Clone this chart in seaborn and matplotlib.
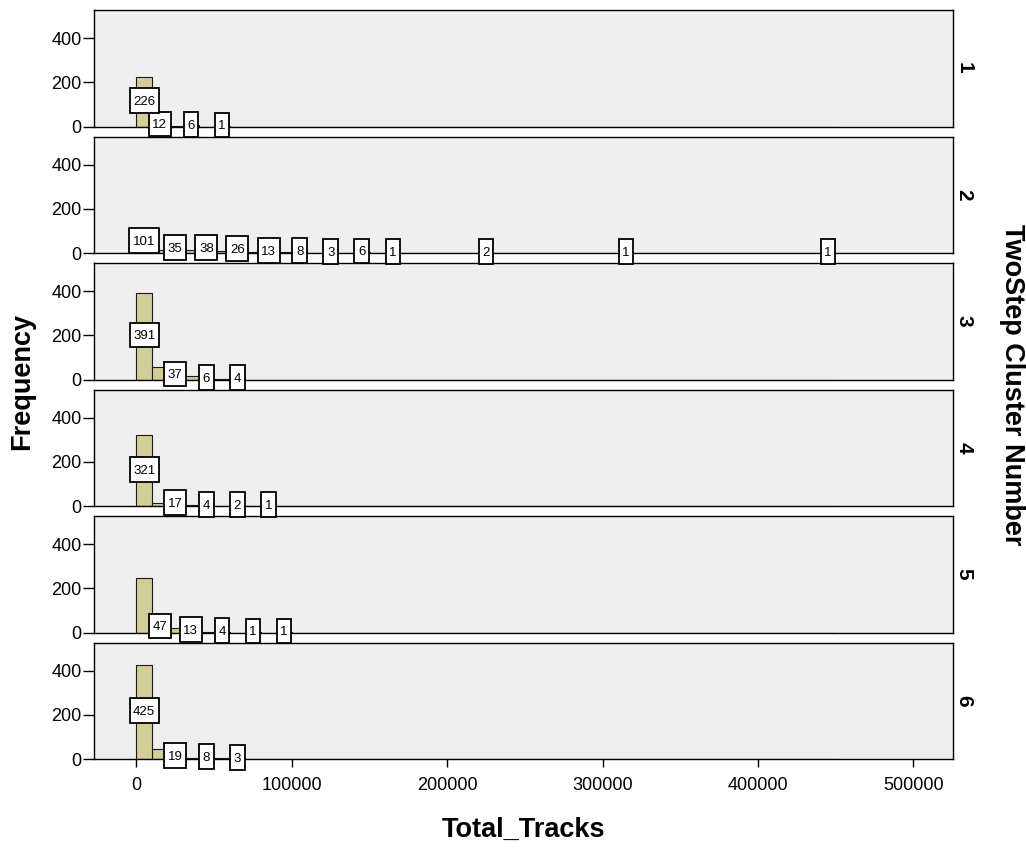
import numpy as np
import pandas as pd
import matplotlib
matplotlib.use("Agg")
import matplotlib.pyplot as plt
from matplotlib.path import Path
import seaborn as sns

# ---------------- data ----------------
bin_width = 10000
n_bins = 45
cluster_names = ["1", "2", "3", "4", "5", "6"]
cluster_1 = [226, 12, 3, 6, 0, 1]
cluster_2 = [101, 15, 35, 14, 38, 10, 26, 6, 13, 3, 8, 0, 3, 0, 6, 0, 1,
             0, 0, 0, 0, 0, 2, 0, 0, 0, 0, 0, 0, 0, 0, 1, 0, 0, 0, 0, 0,
             0, 0, 0, 0, 0, 0, 0, 1]
cluster_3 = [391, 58, 37, 18, 6, 3, 4]
cluster_4 = [321, 12, 17, 3, 4, 2, 2, 2, 1]
cluster_5 = [245, 47, 19, 13, 3, 4, 0, 1, 0, 1]
cluster_6 = [425, 44, 19, 4, 8, 3, 3]
y_ticks = [0, 200, 400]
x_ticks = [0, 100000, 200000, 300000, 400000, 500000]
x_tick_labels = ["0", "100000", "200000", "300000", "400000", "500000"]
x_title = "Total_Tracks"
y_title = "Frequency"
strip_title = "TwoStep Cluster Number"

clusters = [cluster_1, cluster_2, cluster_3, cluster_4, cluster_5, cluster_6]
edges = np.arange(0, (n_bins + 1) * bin_width, bin_width)
centers = edges[:-1] + bin_width / 2
rows = []
for name, counts in zip(cluster_names, clusters):
    full = list(counts) + [0] * (n_bins - len(counts))
    for c, n in zip(centers, full):
        rows.append({"cluster": name, "Total_Tracks": c, "count": n})
df = pd.DataFrame(rows)

# ---------------- style ----------------
sns.set_style("white")
plt.rcParams["font.family"] = ["Liberation Sans", "DejaVu Sans"]
plt.rcParams["axes.linewidth"] = 1.0
for key in ["text.color", "axes.labelcolor", "xtick.color", "ytick.color", "axes.edgecolor"]:
    plt.rcParams[key] = "black"

BAR = "#D3CE97"
BG = "#EFEFEF"

fig, axes = plt.subplots(len(cluster_names), 1, figsize=(10.26, 8.48), dpi=100, sharex=True)
fig.subplots_adjust(left=94 / 1026, right=953 / 1026, top=1 - 10 / 848,
                    bottom=1 - 759 / 848, hspace=10 / 116.5)

PADX, PADY, SHIFT = 0.27, 0.48, 0.1


def label_box(x0, y0, width, height, mutation_size):
    px = PADX * mutation_size
    pb = (PADY - SHIFT) * mutation_size
    pt = (PADY + SHIFT) * mutation_size
    verts = [(x0 - px, y0 - pb), (x0 + width + px, y0 - pb),
             (x0 + width + px, y0 + height + pt), (x0 - px, y0 + height + pt),
             (x0 - px, y0 - pb)]
    codes = [Path.MOVETO, Path.LINETO, Path.LINETO, Path.LINETO, Path.CLOSEPOLY]
    return Path(verts, codes)


for i, (ax, name) in enumerate(zip(axes, cluster_names)):
    sub = df[df["cluster"] == name]
    sns.histplot(data=sub, x="Total_Tracks", weights="count",
                 binwidth=bin_width, binrange=(0, n_bins * bin_width), ax=ax,
                 color=BAR, edgecolor="#1a1a1a", linewidth=0.8, alpha=1, shrink=1)
    ax.set_facecolor(BG)
    ax.set_zorder(len(cluster_names) - i)
    ax.set_xlim(-27300, 525500)
    ax.set_ylim(0, 528)
    ax.set_yticks(y_ticks)
    ax.set_yticklabels([str(t) for t in y_ticks], fontsize=13)
    ax.set_ylabel("")
    ax.set_xlabel("")
    for s in ax.spines.values():
        s.set_color("black")
        s.set_linewidth(1.0)
    ax.tick_params(axis="y", left=True, direction="out", length=8, width=1.0, pad=1, colors="black")
    if i < len(cluster_names) - 1:
        ax.tick_params(axis="x", bottom=False, labelbottom=False)
    ax.text(1.0125, 0.5, name, transform=ax.transAxes, rotation=270, ha="center",
            va="center", fontsize=15, fontweight="bold")

ax_last = axes[-1]
ax_last.set_xticks(x_ticks)
ax_last.set_xticklabels(x_tick_labels, fontsize=13)
ax_last.tick_params(axis="x", bottom=True, direction="out", length=6, width=1.0, pad=7, colors="black")

fig.text(22 / 1026, 1 - 381 / 848, y_title, rotation=90, ha="center", va="center",
         fontsize=19.5, fontweight="bold")
fig.text(523.5 / 1026, 1 - 830 / 848, x_title, ha="center", va="center",
         fontsize=19.5, fontweight="bold")
fig.text(1012 / 1026, 1 - 385 / 848, strip_title, rotation=270, ha="center", va="center",
         fontsize=19.5, fontweight="bold")

# ---------------- value labels (right to left, skipping overlaps) ----------------
fig.canvas.draw()
renderer = fig.canvas.get_renderer()
fs = 9.5

for ax in axes:
    bars = [p for p in ax.patches if p.get_height() > 0]
    bars.sort(key=lambda p: p.get_x(), reverse=True)
    kept = []
    for p in bars:
        h = p.get_height()
        cx = p.get_x() + p.get_width() / 2
        t = ax.text(cx, h / 2, f"{int(round(h))}", ha="center", va="center",
                    fontsize=fs, color="black", zorder=6, clip_on=False,
                    bbox=dict(boxstyle=label_box, fc="white", ec="black", lw=1.3))
        t.update_bbox_position_size(renderer)
        bb = t.get_bbox_patch().get_window_extent(renderer)
        box = (bb.x0, bb.y0, bb.x1, bb.y1)
        conflict = False
        for k in kept:
            xo = min(box[2] + 2, k[2] + 2) - max(box[0] - 2, k[0] - 2)
            yo = min(box[3], k[3]) - max(box[1], k[1])
            if xo > 0 and yo > 2.3:
                conflict = True
                break
        if conflict:
            t.remove()
        else:
            kept.append(box)

fig.savefig("out.png", dpi=100)
